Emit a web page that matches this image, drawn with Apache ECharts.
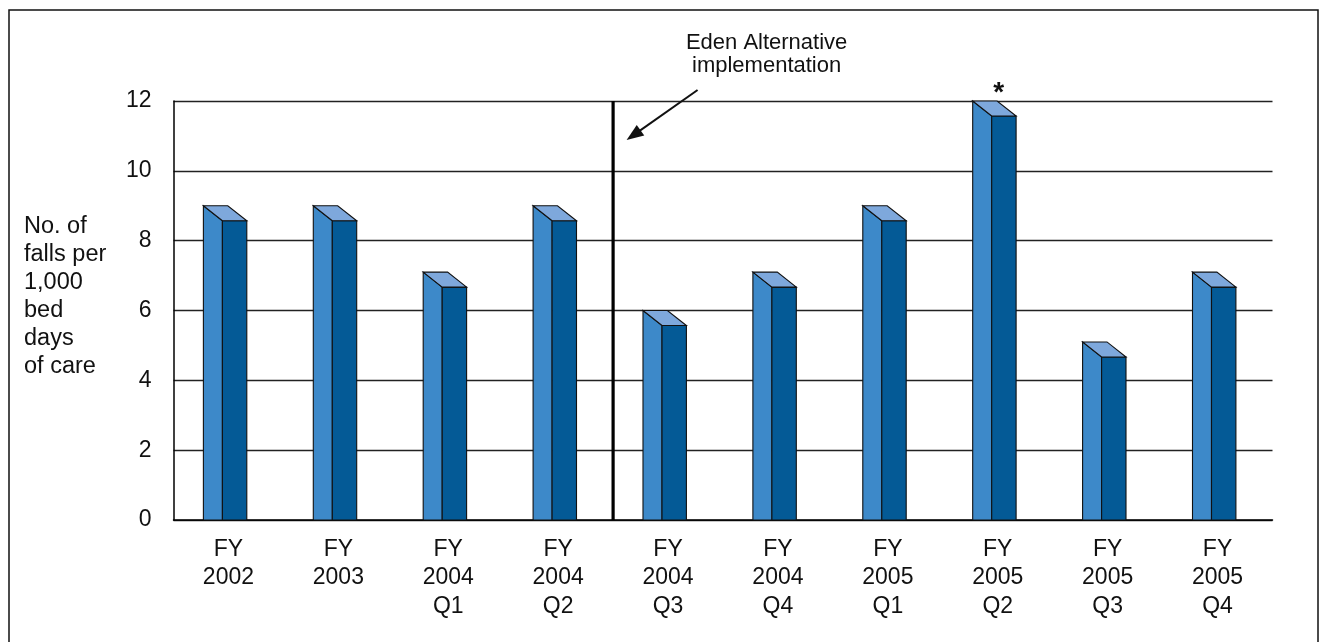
<!DOCTYPE html>
<html>
<head>
<meta charset="utf-8">
<script src="https://cdn.jsdelivr.net/npm/echarts@6.0.0/dist/echarts.min.js"></script>
<style>
  html, body { margin: 0; padding: 0; background: #fff; }
  #chart { width: 1323px; height: 642px; }
</style>
</head>
<body>
<div id="chart"></div>
<script>
// Falls per 1,000 bed days of care, by fiscal period
const categories = [
  'FY\n2002', 'FY\n2003', 'FY\n2004\nQ1', 'FY\n2004\nQ2', 'FY\n2004\nQ3',
  'FY\n2004\nQ4', 'FY\n2005\nQ1', 'FY\n2005\nQ2', 'FY\n2005\nQ3', 'FY\n2005\nQ4'
];
const fallRates = [9, 9, 7.1, 9, 6, 7.1, 9, 12, 5.1, 7.1];
const starred = [false, false, false, false, false, false, false, true, false, false];
const yTicks = { min: 0, max: 12, interval: 2 };
const yTitleLines = ['No. of', 'falls per', '1,000', 'bed', 'days', 'of care'];
const noteText = ['Eden Alternative', 'implementation'];
const noteAfterIndex = 3; // the marker sits between this category and the next

const FONT = '"Liberation Sans", Arial, Helvetica, sans-serif';
const INK = '#111';
const SIDE = '#3d89c9';
const FRONT = '#045a96';
const TOP = '#7ea8dc';

// Pseudo-3D column: light left side, dark front face, pale top
function renderColumn(params, api) {
  const idx = api.value(0);
  const v = api.value(1);
  const peak = api.coord([idx, v]);
  const base = api.coord([idx, 0]);
  const bw = api.size([1, 0])[0];
  const faceW = bw * 0.222;
  const dx = bw * 0.173;
  const dy = dx * 0.79;
  const backL = peak[0] - bw * 0.228;
  const backR = backL + faceW;
  const frontL = backL + dx;
  const frontR = frontL + faceW;
  const yTop = peak[1];
  const yFront = yTop + dy;
  const y0 = base[1];
  const edge = { stroke: INK, lineWidth: 1.1 };
  const children = [
    { type: 'polygon', shape: { points: [[backL, yTop], [frontL, yFront], [frontL, y0], [backL, y0]] },
      style: Object.assign({ fill: SIDE }, edge) },
    { type: 'rect', shape: { x: frontL, y: yFront, width: faceW, height: y0 - yFront },
      style: Object.assign({ fill: FRONT }, edge) },
    { type: 'polygon', shape: { points: [[backL, yTop], [backR, yTop], [frontR, yFront], [frontL, yFront]] },
      style: Object.assign({ fill: TOP }, edge) }
  ];
  if (starred[idx]) {
    children.push({
      type: 'text',
      style: { text: '*', x: peak[0] + 1, y: yTop - 8, align: 'center', verticalAlign: 'middle',
               font: 'bold 28px ' + FONT, fill: INK }
    });
  }
  return { type: 'group', children: children };
}

// Vertical divider with the arrow and its caption
function renderMarker(params, api) {
  const a = api.coord([noteAfterIndex, yTicks.max]);
  const b = api.coord([noteAfterIndex + 1, 0]);
  const x = (a[0] + b[0]) / 2;
  const yTop = a[1];
  const y0 = b[1];
  const tip = [x + 13.5, yTop + 39];
  const start = [x + 84.5, yTop - 11];
  const vx = tip[0] - start[0], vy = tip[1] - start[1];
  const len = Math.sqrt(vx * vx + vy * vy);
  const ux = vx / len, uy = vy / len;
  const headL = 17, headW = 6.5;
  const hb = [tip[0] - ux * headL, tip[1] - uy * headL];
  return {
    type: 'group',
    children: [
      { type: 'line', shape: { x1: x, y1: yTop, x2: x, y2: y0 }, style: { stroke: '#000', lineWidth: 3.2 } },
      { type: 'line', shape: { x1: start[0], y1: start[1], x2: hb[0] + ux * 2, y2: hb[1] + uy * 2 },
        style: { stroke: INK, lineWidth: 2 } },
      { type: 'polygon', shape: { points: [tip, [hb[0] - uy * headW, hb[1] + ux * headW], [hb[0] + uy * headW, hb[1] - ux * headW]] },
        style: { fill: INK } },
      { type: 'text', style: { text: noteText.join('\n'), x: x + 153.5, y: yTop - 47, align: 'center',
        verticalAlign: 'middle', font: '22px ' + FONT, lineHeight: 23, fill: INK } }
    ]
  };
}

const chart = echarts.init(document.getElementById('chart'), null, { renderer: 'canvas' });
chart.setOption({
  animation: false,
  backgroundColor: '#fff',
  grid: { left: 173.5, right: 50.5, top: 101, bottom: 122 },
  xAxis: {
    type: 'category',
    data: categories,
    boundaryGap: true,
    axisLine: { lineStyle: { color: '#000', width: 1.5 } },
    axisTick: { show: false },
    axisLabel: { color: INK, fontFamily: FONT, fontSize: 23, lineHeight: 28.5, margin: 15, interval: 0 }
  },
  yAxis: {
    type: 'value',
    min: yTicks.min, max: yTicks.max, interval: yTicks.interval,
    axisLine: { show: true, lineStyle: { color: '#000', width: 1.5 } },
    axisTick: { show: false },
    splitLine: { lineStyle: { color: '#222', width: 1.4 } },
    axisLabel: { color: INK, fontFamily: FONT, fontSize: 23, margin: 22 }
  },
  graphic: [
    { type: 'rect', silent: true, z: -1, shape: { x: 9, y: 10, width: 1309, height: 660 },
      style: { fill: 'none', stroke: '#111', lineWidth: 1.5 } },
    { type: 'text', silent: true, left: 24, top: 213,
      style: { text: yTitleLines.join('\n'), font: '23.5px ' + FONT, lineHeight: 27.9, fill: INK } }
  ],
  series: [
    {
      type: 'custom',
      renderItem: renderColumn,
      data: fallRates.map((v, i) => [i, v]),
      encode: { x: 0, y: 1 },
      z: 3
    },
    {
      type: 'custom',
      renderItem: renderMarker,
      data: [[noteAfterIndex, yTicks.max]],
      encode: { x: 0, y: 1 },
      clip: false,
      z: 4
    }
  ]
});
</script>
</body>
</html>
